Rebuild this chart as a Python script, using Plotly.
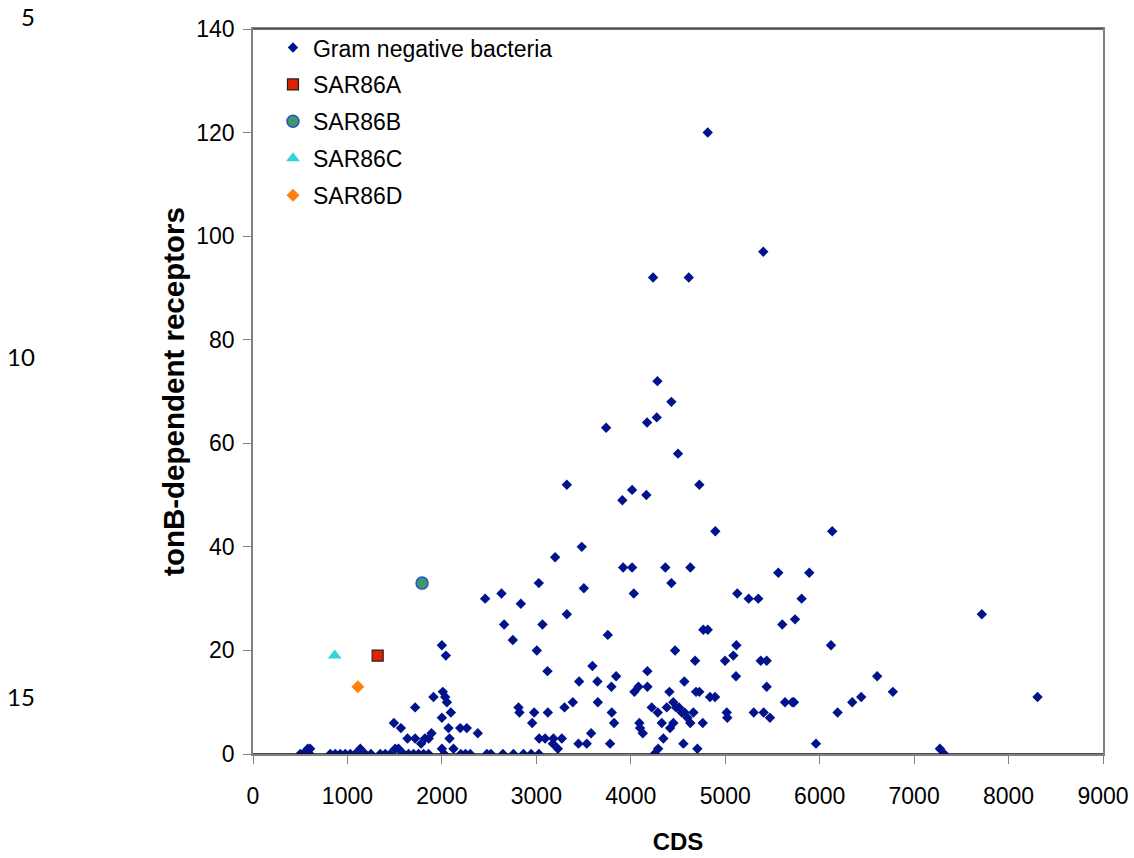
import plotly.graph_objects as go

# Gram negative bacteria: CDS (x) vs tonB-dependent receptors (y)
gram_cds = [
    500, 530, 560, 580, 600, 605, 818, 871, 924, 977, 1030, 1083, 1136, 1188, 1249,
    1347, 1400, 1453, 1506, 1541, 1594, 1647, 1700, 1753, 1806, 1859, 2000, 2024, 2123,
    2200, 2250, 2300, 2476, 2519, 2646, 2758, 2864, 2945, 3027, 3228, 4250, 4290, 4705,
    5961, 7273, 7319,
    1492, 1566, 1636, 1717, 1717, 1780, 1820, 1860, 1890, 1911, 2010, 2035, 2053, 2095,
    2000, 2070, 2081, 2000, 2042, 2194, 2264, 2380,
    2458, 2631, 2836, 3026, 2659, 3065, 2751, 3005, 3118, 3199,
    2811, 2821, 2977, 2956, 3122, 3298, 3386,
    3030, 3093, 3181, 3270, 3175, 3446, 3534, 3580, 3781,
    3323, 3911, 4014, 4165, 4726, 4895, 6133, 3481,
    3919, 4014, 4366, 4631, 3503, 4032, 4430, 5128, 5248, 5350, 5562, 5890, 5809, 5604,
    5739, 3323, 3757, 4768, 4815, 4469, 5118, 5086, 4998, 6120,
    3594, 3453, 3647, 3845, 3795, 4176, 4038, 4081, 4176, 4567, 4409, 4681, 4691, 4726,
    4839, 4892, 5114, 5439, 5376, 5439, 5633, 5710, 5728, 5302, 5407, 5474, 5016, 5022,
    6190, 3651, 3799, 3823,
    4222, 4286, 4381, 4450, 4480, 4510, 4540, 4570, 4600, 4630, 4663, 4762, 4091, 4098,
    4127, 4328, 4451, 4416, 4345, 4557,
    4815, 5403, 4236, 4614, 4282, 4430, 4173, 4275, 3739, 4500,
    7717, 6609, 6775, 6345, 6440, 8307,
]
gram_tonb = [
    0, 0, 0, 1, 0, 1, 0, 0, 0, 0, 0, 0, 1, 0, 0,
    0, 0, 0, 1, 1, 0, 0, 0, 0, 0, 0, 1, 0, 1,
    0, 0, 0, 0, 0, 0, 0, 0, 0, 0, 1, 0, 1, 1,
    2, 1, 0,
    6, 5, 3, 3, 9, 2, 3, 3, 4, 11, 12, 11, 10, 8,
    7, 5, 3, 21, 19, 5, 5, 4,
    30, 31, 29, 33, 25, 25, 22, 20, 16, 38,
    9, 8, 8, 6, 8, 9, 10,
    3, 3, 3, 3, 2, 2, 2, 4, 2,
    52, 49, 51, 50, 52, 43, 43, 40,
    36, 36, 36, 36, 32, 31, 33, 31, 30, 30, 35, 35, 30, 25,
    26, 27, 23, 24, 24, 20, 21, 19, 18, 21,
    17, 14, 14, 15, 13, 16, 12, 13, 13, 14, 12, 18, 12, 12,
    11, 11, 15, 13, 18, 18, 10, 10, 10, 8, 8, 7, 8, 7,
    8, 10, 8, 6,
    9, 8, 9, 10, 9, 9, 8, 8, 7, 6, 8, 6, 6, 5,
    4, 6, 6, 5, 3, 2,
    120, 97, 92, 92, 72, 68, 64, 65, 63, 58,
    27, 15, 12, 10, 11, 11,
]

sar_names = ["SAR86A", "SAR86B", "SAR86C", "SAR86D"]
sar_cds = [1320, 1790, 865, 1110]
sar_tonb = [19, 33, 19, 13]

x_ticks = [0, 1000, 2000, 3000, 4000, 5000, 6000, 7000, 8000, 9000]
y_ticks = [0, 20, 40, 60, 80, 100, 120, 140]
line_numbers = ["5", "10", "15"]

FONT = "Liberation Sans, Arial, sans-serif"

fig = go.Figure()
fig.add_trace(go.Scatter(
    x=gram_cds, y=gram_tonb, mode="markers", name="Gram negative bacteria",
    legendgroup="g0",
    marker=dict(symbol="diamond", size=8, color="#00128C", line=dict(width=0)),
))
styles = [
    dict(symbol="square", size=11, color="#E02200", line=dict(width=1.2, color="#202020")),
    dict(symbol="circle", size=12, color="#3A9A6E", line=dict(width=1.5, color="#3050C8")),
    dict(symbol="triangle-up", size=12, color="#33D3D8", line=dict(width=0)),
    dict(symbol="diamond", size=10, color="#FF7F10", line=dict(width=0)),
]
for i, nm in enumerate(sar_names):
    fig.add_trace(go.Scatter(
        x=[sar_cds[i]], y=[sar_tonb[i]], mode="markers", name=nm,
        legendgroup="g%d" % (i + 1), marker=styles[i],
    ))

axis_common = dict(
    showgrid=False, zeroline=False, showline=True, mirror=True,
    linecolor="#808080", linewidth=1.5, ticks="outside", ticklen=8,
    tickcolor="#808080", tickwidth=1.2, automargin=False,
    tickfont=dict(family=FONT, size=23, color="#000000"),
)
fig.update_xaxes(
    range=[0, 9000], tickvals=x_ticks, ticktext=[str(v) for v in x_ticks],
    ticklabelstandoff=13,
    title=dict(text="<b>CDS</b>", font=dict(family=FONT, size=24, color="#000"), standoff=25),
    **axis_common,
)
fig.update_yaxes(
    range=[0, 140], tickvals=y_ticks, ticktext=[str(v) for v in y_ticks],
    ticklabelstandoff=4,
    title=dict(text="<b>tonB-dependent receptors</b>", font=dict(family=FONT, size=29.5, color="#000"), standoff=3),
    **axis_common,
)
# darker baseline at y = 0 and darker top frame
fig.add_shape(type="line", xref="paper", yref="y", x0=0, x1=1, y0=0, y1=0,
              line=dict(color="#111111", width=1.5))
fig.add_shape(type="line", xref="paper", yref="paper", x0=0, x1=1, y0=1, y1=1,
              line=dict(color="#404040", width=1.5))

line_y = [1.017, 0.548, 0.0794]
for t, yy in zip(line_numbers, line_y):
    fig.add_annotation(text=t, xref="paper", yref="paper", x=-0.254, y=yy,
                       showarrow=False, xanchor="right", yanchor="middle",
                       font=dict(family="Lato, Carlito, sans-serif", size=24, color="#000"))

fig.update_layout(
    width=1134, height=858,
    margin=dict(l=253, r=31, t=29, b=104, autoexpand=False),
    paper_bgcolor="#ffffff", plot_bgcolor="#ffffff",
    showlegend=True,
    legend=dict(
        x=0.0235, y=1.004, xanchor="left", yanchor="top",
        bgcolor="rgba(0,0,0,0)", borderwidth=0,
        font=dict(family=FONT, size=23, color="#000"),
        tracegroupgap=4, traceorder="grouped", itemwidth=30,
    ),
)
fig.write_html("out.html")
